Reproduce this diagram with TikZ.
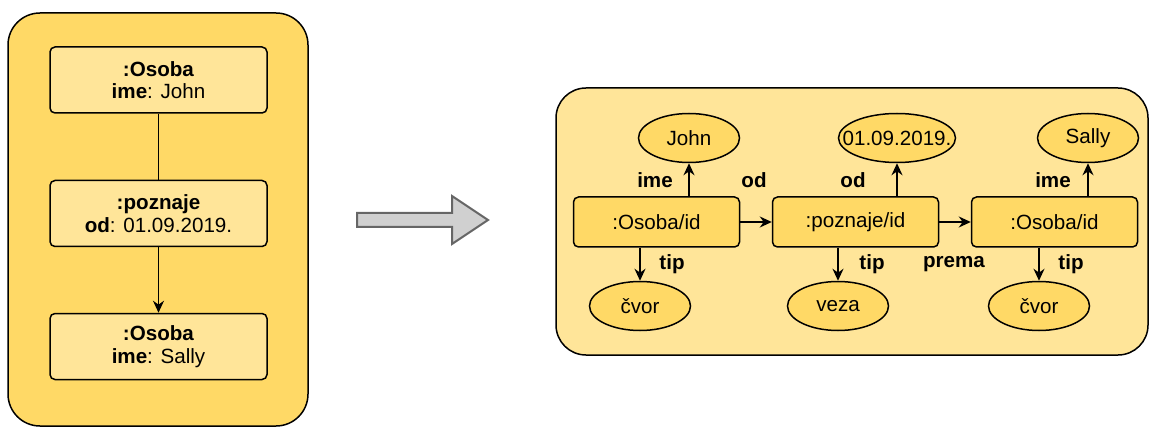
\documentclass[tikz,border=0pt]{standalone}
\usepackage{fontspec}
\setmainfont{Liberation Sans}
\usetikzlibrary{shapes.geometric,arrows.meta}
\definecolor{goldfill}{HTML}{FFD966}
\definecolor{lightgold}{HTML}{FFE599}
\definecolor{arrowgray}{HTML}{D0D0D0}
\definecolor{arrowedge}{HTML}{666666}
\tikzset{
  entity/.style={draw, fill=lightgold, rounded corners=2.5pt, minimum width=108.5pt, minimum height=33pt, align=center, line width=0.75pt},
  idbox/.style={draw, fill=goldfill, rounded corners=2.5pt, minimum width=83pt, minimum height=25pt, line width=0.75pt},
  valnode/.style={draw, ellipse, fill=goldfill, minimum width=50.5pt, minimum height=24.5pt, inner xsep=-7pt, inner ysep=-3pt, line width=0.75pt},
  lbl/.style={font=\fontsize{10.3}{11.2}\selectfont\bfseries},
  arr/.style={-{Stealth[length=6pt,width=5.5pt]}, line width=0.75pt},
}
\begin{document}
\begin{tikzpicture}[x=0.5pt,y=-0.5pt,font=\fontsize{10.3}{11.2}\selectfont]
    \useasboundingbox (0,0) rectangle (1150,427);

    % Property graph (left)
    \draw[fill=goldfill, rounded corners=16pt, line width=0.75pt] (8,13) rectangle (308,426);
    \node[entity] (p1) at (158.5,80) {\textbf{:Osoba}\\\textbf{ime}: John};
    \node[entity] (r1) at (158.5,213.5) {\textbf{:poznaje}\\\textbf{od}: 01.09.2019.};
    \node[entity] (p2) at (158.5,346.5) {\textbf{:Osoba}\\\textbf{ime}: Sally};
    \draw[line width=0.75pt] (p1) -- (r1);
    \draw[arr] (r1) -- (p2);

    % Transformation arrow
    \draw[fill=arrowgray, draw=arrowedge, line width=1pt] (357,213) -- (452,213) -- (452,196) -- (488,220) -- (452,244) -- (452,227) -- (357,227) -- cycle;

    % Triple representation (right)
    \draw[fill=lightgold, rounded corners=15pt, line width=0.75pt] (556,88) rectangle (1148,355);
    \node[idbox] (o1) at (656.5,222) {:Osoba/id};
    \node[idbox] (k1) at (855.5,222) {:poznaje/id};
    \node[idbox] (o2) at (1054.5,222) {:Osoba/id};

    \node[valnode] (john) at (689,138) {John};
    \node[valnode, minimum width=58.5pt] (datum) at (897,138) {01.09.2019.};
    \node[valnode] (sally) at (1088,138) {Sally};
    \node[valnode] (cvor1) at (640,306) {čvor};
    \node[valnode] (veza) at (838,306) {veza};
    \node[valnode] (cvor2) at (1039,306) {čvor};

    % Arrows
    \draw[arr] (o1) -- (k1);
    \draw[arr] (k1) -- (o2);
    \draw[arr] (o1.north -| john.south) -- (john.south);
    \draw[arr] (k1.north -| datum.south) -- (datum.south);
    \draw[arr] (o2.north -| sally.south) -- (sally.south);
    \draw[arr] (o1.south -| cvor1.north) -- (cvor1.north);
    \draw[arr] (k1.south -| veza.north) -- (veza.north);
    \draw[arr] (o2.south -| cvor2.north) -- (cvor2.north);

    % Labels
    \node[lbl] (l1) at (655,180) {ime};
    \node[lbl] (l2) at (754,180) {od};
    \node[lbl] (l3) at (853,180) {od};
    \node[lbl] (l4) at (1053,180) {ime};
    \node[lbl] (l5) at (672,264) {tip};
    \node[lbl] (l6) at (872,264) {tip};
    \node[lbl] (l7) at (954,264) {prema};
    \node[lbl] (l8) at (1071,264) {tip};
\end{tikzpicture}
\end{document}
